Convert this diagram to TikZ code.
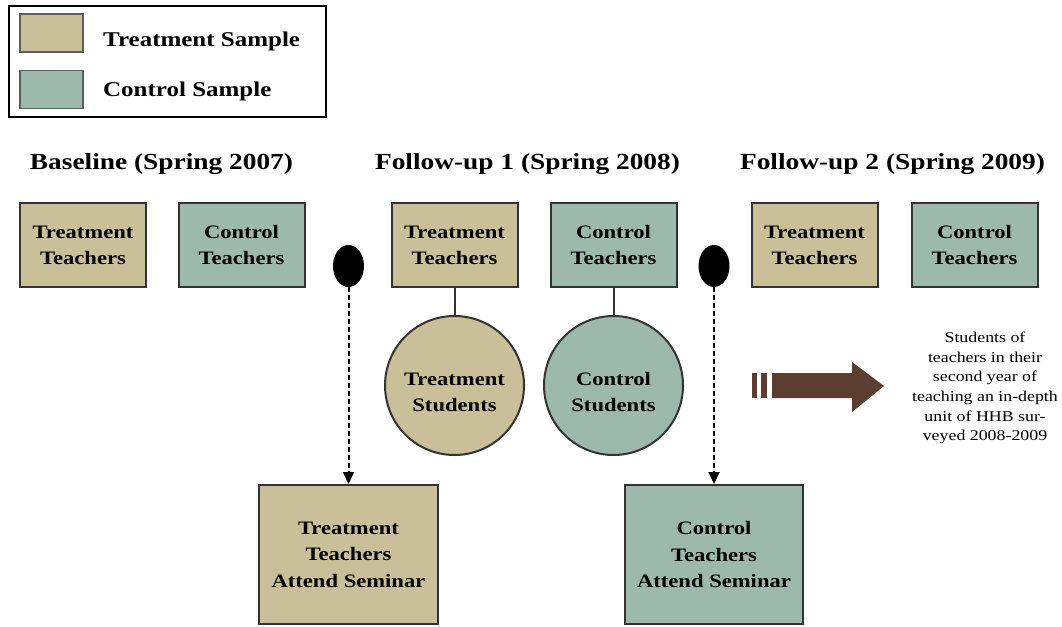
\documentclass[tikz,border=0pt]{standalone}
\usepackage{fontspec}
\setmainfont[FakeStretch=1.19]{Liberation Serif}
\usetikzlibrary{arrows.meta,shapes.geometric}
\definecolor{treat}{HTML}{C9BF98}
\definecolor{ctrl}{HTML}{9DB8AC}
\definecolor{edgec}{HTML}{333333}
\definecolor{brownarrow}{HTML}{5B3E2F}
\begin{document}
\begin{tikzpicture}[x=1pt,y=-1pt,
  box/.style={draw=edgec, line width=2pt, inner sep=0pt, minimum width=126pt, minimum height=84pt, align=center, font=\bfseries\fontsize{19}{26}\selectfont},
  tbox/.style={box, fill=treat},
  cbox/.style={box, fill=ctrl},
  sem/.style={box, minimum width=179pt, minimum height=139pt, font=\bfseries\fontsize{19}{26.5}\selectfont},
  stu/.style={circle, draw=edgec, line width=2pt, minimum size=139pt, inner sep=0pt},
  stutext/.style={align=center, font=\bfseries\fontsize{19}{26}\selectfont},
  dotnode/.style={ellipse, fill=black, minimum width=31pt, minimum height=42pt, inner sep=0pt},
  hdr/.style={anchor=base, inner sep=0pt, font=\bfseries\fontsize{23}{28}\selectfont},
  legtext/.style={anchor=base west, inner sep=0pt, font=\bfseries\fontsize{21}{25}\selectfont},
  swatch/.style={draw=edgec!80, line width=1.5pt, minimum width=63pt, minimum height=38pt, inner sep=0pt},
  note/.style={align=center, inner sep=0pt, font=\fontsize{15}{19.7}\selectfont},
  conn/.style={draw=edgec, line width=2pt},
  darrow/.style={draw=black, line width=2pt, dash pattern=on 5pt off 3pt, -{Triangle[width=11pt,length=12pt]}}
]
\useasboundingbox (0,0) rectangle (1062,626);
\fill[white] (0,0) rectangle (1062,626);

% legend
\node[draw=black, line width=1.6pt, minimum width=317pt, minimum height=111pt, inner sep=0pt] (leg) at (167.5,61.5) {};
\node[swatch, fill=treat] (sw1) at (51.5,33) {};
\node[swatch, fill=ctrl] (sw2) at (51.5,89.5) {};
\node[legtext] (lt1) at (103,47) {Treatment Sample};
\node[legtext] (lt2) at (103,96) {Control Sample};

% headers
\node[hdr] (h1) at (161.5,169) {Baseline (Spring 2007)};
\node[hdr] (h2) at (527.5,169) {Follow-up 1 (Spring 2008)};
\node[hdr] (h3) at (892.5,169) {Follow-up 2 (Spring 2009)};

% teacher boxes
\node[tbox] (bt) at (83,245) {Treatment\\Teachers};
\node[cbox] (bc) at (241.5,245) {Control\\Teachers};
\node[tbox] (f1t) at (454.5,245) {Treatment\\Teachers};
\node[cbox] (f1c) at (613.5,245) {Control\\Teachers};
\node[tbox] (f2t) at (814.5,245) {Treatment\\Teachers};
\node[cbox] (f2c) at (974.5,245) {Control\\Teachers};

% dots
\node[dotnode] (d1) at (348.5,266) {};
\node[dotnode] (d2) at (714,266) {};

% student circles
\node[stu, fill=treat, label={[stutext, yshift=-7pt]center:Treatment\\Students}] (ts) at (454.5,385.5) {};
\node[stu, fill=ctrl, label={[stutext, yshift=-7pt]center:Control\\Students}] (cs) at (613.5,385.5) {};
\draw[conn] (f1t.south) -- (ts.north);
\draw[conn] (f1c.south) -- (cs.north);

% seminar boxes
\node[sem, fill=treat] (tsem) at (348.5,554.5) {Treatment\\Teachers\\Attend Seminar};
\node[sem, fill=ctrl, minimum width=178pt] (csem) at (714,554.5) {Control\\Teachers\\Attend Seminar};
\draw[darrow] (d1.south) -- (tsem.north);
\draw[darrow] (d2.south) -- (csem.north);

% big arrow
\fill[brownarrow] (772,373) -- (852,373) -- (852,362) -- (884,386) -- (852,412) -- (852,398) -- (772,398) -- cycle;
\fill[brownarrow] (752,373) rectangle (757,398);
\fill[brownarrow] (761,373) rectangle (767,398);

% note
\node[note] (nt) at (985,388) {Students of\\teachers in their\\second year of\\teaching an in-depth\\unit of HHB sur-\\veyed 2008-2009};
\end{tikzpicture}
\end{document}
